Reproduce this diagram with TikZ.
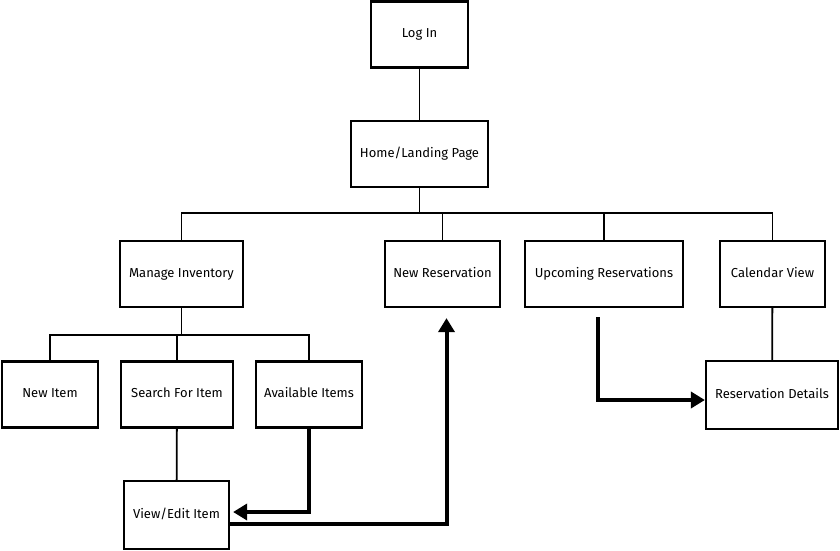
\documentclass[tikz,border=0pt]{standalone}
\usepackage{fontspec}
\setmainfont{Fira Sans}
\usetikzlibrary{arrows.meta}

\tikzset{
  box/.style = {draw, line width = 2.2pt, minimum height = 66pt, inner sep = 0pt,
                text height = 9.5pt, text depth = 3pt,
                font = \fontsize{13}{15}\selectfont},
  link/.style = {line width = 1.8pt},
  flow/.style = {line width = 4pt, -{Triangle[length = 14pt, width = 16pt]}}
}

\begin{document}
\begin{tikzpicture}[x = 1pt, y = -1pt]
	\useasboundingbox (0, 0) rectangle (840, 550);

	\node [box, minimum width = 97pt] (L) at (419.5, 34.5) {Log In};
	\node [box, minimum width = 137pt] (H) at (419.5, 154) {Home/Landing Page};

	\node [box, minimum width = 123pt] (M) at (181.5, 274) {Manage Inventory};
	\node [box, minimum width = 115pt] (R) at (442.5, 274) {New Reservation};
	\node [box, minimum width = 158pt] (U) at (604, 274) {Upcoming Reservations};
	\node [box, minimum width = 105pt] (C) at (772.5, 274) {Calendar View};

	\node [box, minimum width = 96pt] (N) at (50, 394.5) {New Item};
	\node [box, minimum width = 112pt] (S) at (177, 394.5) {Search For Item};
	\node [box, minimum width = 106pt] (A) at (309, 394.5) {Available Items};
	\node [box, minimum width = 105pt, minimum height = 68pt] (V) at (176.5, 515) {View/Edit Item};
	\node [box, minimum width = 132pt, minimum height = 68pt] (D) at (772, 395) {Reservation Details};

	\coordinate (h1) at (419.5, 213);
	\coordinate (m1) at (181.5, 335);

	\draw [link] (L) -- (H);
	\draw [link] (H) -- (h1);
	\draw [link] (M.north) |- (h1);
	\draw [link] (R.north) |- (h1);
	\draw [link] (U.north) |- (h1);
	\draw [link] (C.north) |- (h1);

	\draw [link] (M) -- (m1);
	\draw [link] (N.north) |- (m1);
	\draw [link] (S.north) |- (m1);
	\draw [link] (A.north) |- (m1);

	\draw [link] (S) -- (V);
	\draw [link] (C) -- (D);

	\draw [flow] (A.south) |- ([xshift = 3pt, yshift = 3pt]V.east);
	\draw [flow] ([yshift = -9pt]V.east) -| ([xshift = 4pt, yshift = -10pt]R.south);
	\draw [flow] ([xshift = -6pt, yshift = -9pt]U.south) |- ([yshift = -5pt]D.west);
\end{tikzpicture}
\end{document}
